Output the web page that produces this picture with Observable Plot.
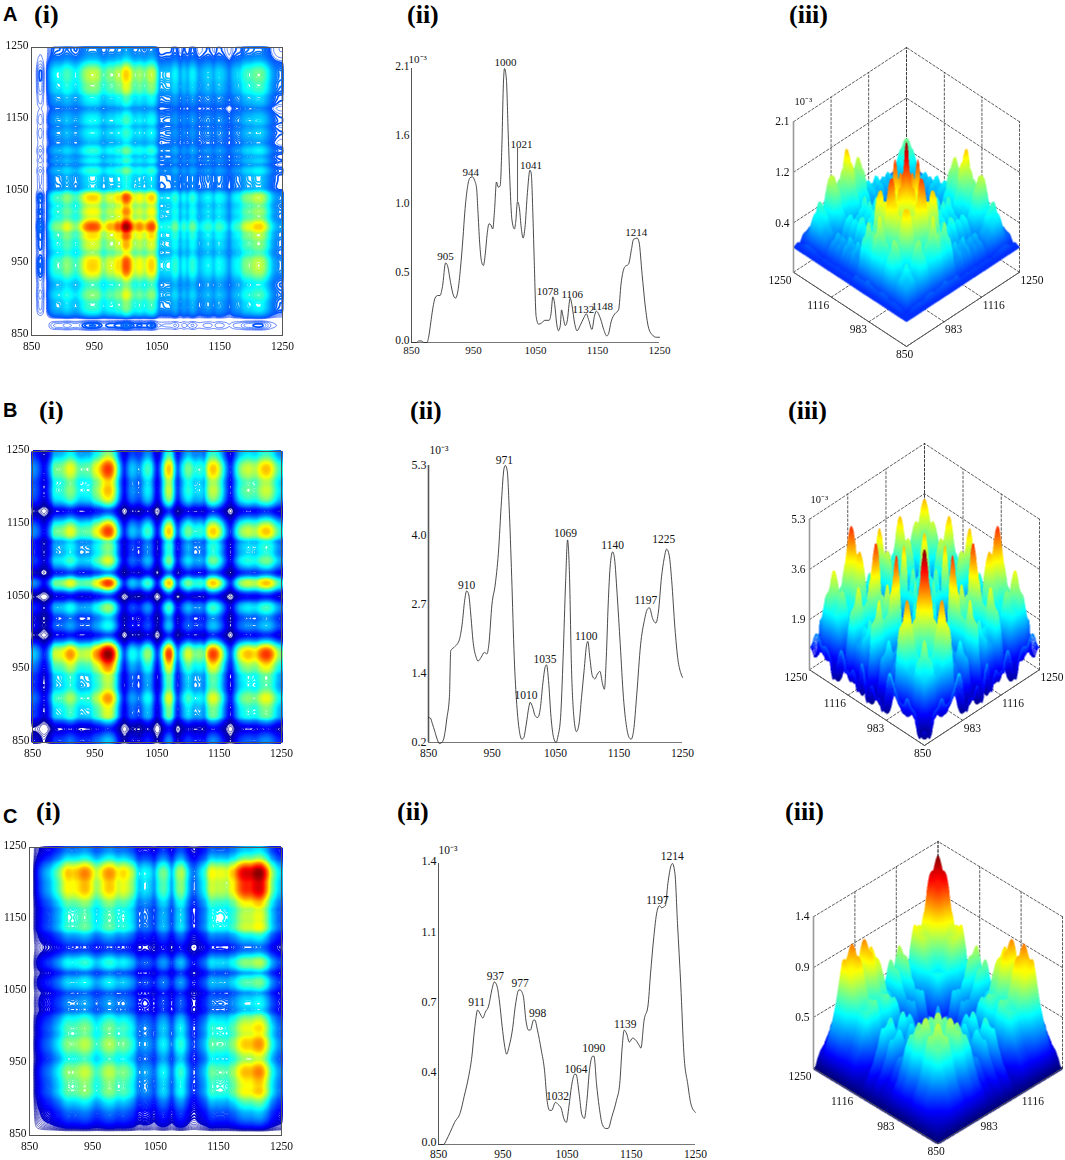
<!DOCTYPE html>
<html><head><meta charset="utf-8">
<script src="https://cdn.jsdelivr.net/npm/d3@7"></script>
<script src="https://cdn.jsdelivr.net/npm/@observablehq/plot@0.6"></script>
<style>
html,body{margin:0;background:#fff}
#root{position:relative;width:1065px;height:1160px;overflow:hidden}
#root svg{position:absolute;background:transparent;overflow:visible}
.t{position:absolute;white-space:pre;line-height:1;color:#000}
.roman{font:bold 26px "Liberation Serif",serif}
.letter{font:bold 20px "Liberation Sans",sans-serif}
</style></head><body><div id="root"></div>
<script>
// ---- series A ----
const wnA=[850,858,862,866,870,875,878,881,884,888,892,896,900,905,908,913,917,921,925,929,933,936,940,944,948,952,955,957,960,963,966,969,972,975,978,981,984,987,990,993,996,998,1000,1003,1006,1009,1012,1016,1018,1021,1024,1027,1030,1033,1037,1041,1043,1046,1048,1051,1055,1060,1065,1072,1075,1078,1081,1084,1087,1090,1092,1094,1098,1101,1106,1109,1113,1117,1122,1128,1132,1136,1141,1145,1148,1155,1160,1165,1168,1172,1178,1184,1188,1194,1200,1205,1208,1214,1217,1222,1227,1232,1238,1245,1250];
const intA=[0,0,.012,.012,0,0,.05,.15,.25,.34,.36,.36,.43,.61,.59,.46,.37,.34,.4,.57,.8,1.0,1.18,1.26,1.27,1.24,1.18,1.02,.76,.62,.59,.68,.83,.91,.9,.87,1.02,1.23,1.19,1.2,1.55,1.95,2.1,2.02,1.6,1.2,.94,.87,.92,1.08,1.03,.88,.8,.88,1.15,1.32,1.3,.95,.62,.2,.14,.15,.17,.17,.22,.35,.29,.15,.09,.13,.25,.21,.13,.16,.34,.28,.15,.09,.13,.19,.22,.17,.1,.2,.24,.18,.1,.05,.07,.16,.22,.25,.45,.58,.6,.72,.79,.8,.77,.52,.28,.12,.06,.04,.04];
const peaksA=[905,944,1000,1021,1041,1078,1106,1132,1148,1214];
const peakDxA=[0,1,1,4,1,-5,2,-3,6,-1];
const peakDyA=[0,0,0,-51,1,1,2,2,1,0];
// ---- series B ----
const wnB=[850,853,856,860,864,867,871,875,879,883,885,890,898,903,907,910,913,917,920,925,928,933,938,942,945,950,955,960,965,969,971,974,977,981,985,989,993,997,1000,1004,1008,1010,1014,1018,1022,1026,1030,1034,1036,1039,1043,1047,1051,1054,1058,1062,1066,1069,1072,1075,1079,1083,1087,1091,1095,1099,1101,1104,1108,1112,1116,1120,1124,1127,1130,1133,1136,1140,1143,1147,1152,1157,1162,1166,1169,1173,1178,1184,1190,1195,1198,1203,1208,1212,1217,1221,1225,1229,1233,1238,1243,1247,1250];
const intB=[.66,.65,.55,.4,.25,.18,.2,.32,.65,1.05,1.89,1.95,2.07,2.38,2.82,2.99,2.94,2.5,2.08,1.77,1.7,1.77,1.86,1.83,2.0,2.75,3.1,3.68,4.66,5.25,5.3,5.2,4.54,3.25,1.77,.9,.42,.26,.29,.54,.85,.94,.85,.69,.66,.82,1.28,1.6,1.63,1.34,.66,.29,.2,.32,.66,1.77,3.18,3.93,3.3,1.65,.66,.4,.54,1.03,1.52,2.0,2.06,1.77,1.43,1.37,1.46,1.51,1.28,1.18,1.77,2.75,3.43,3.71,3.58,2.94,2.0,1.03,.48,.29,.26,.42,1.09,2.0,2.45,2.66,2.68,2.48,2.4,2.6,3.25,3.58,3.76,3.65,3.18,2.32,1.71,1.49,1.4];
const peaksB=[910,971,1010,1035,1069,1100,1140,1197,1225];
const peakDxB=[0,-1,-4,-1,-2,-1,0,-3,-3];
const peakDyB=[0,1,-1,0,-1,-1,-1,-2,-4];
// ---- series C ----
const wnC=[850,858,862,868,875,884,890,897,902,906,911,915,919,923,928,933,937,941,945,949,953,956,960,965,970,975,977,982,986,990,993,998,1000,1004,1010,1015,1019,1023,1026,1032,1036,1041,1045,1049,1053,1057,1062,1064,1069,1073,1077,1081,1085,1090,1092,1096,1100,1105,1110,1114,1120,1127,1132,1136,1139,1143,1147,1152,1157,1163,1165,1170,1176,1180,1185,1190,1194,1197,1203,1207,1212,1214,1218,1222,1227,1232,1238,1243,1250];
const intC=[0,0,.02,.06,.11,.16,.24,.34,.44,.57,.67,.65,.63,.66,.69,.77,.81,.79,.71,.59,.49,.45,.49,.57,.7,.77,.77,.74,.62,.57,.57,.62,.62,.57,.47,.37,.22,.17,.17,.21,.2,.18,.13,.11,.19,.29,.35,.35,.25,.15,.13,.22,.37,.44,.44,.3,.19,.1,.08,.08,.14,.22,.3,.49,.57,.55,.51,.53,.52,.49,.48,.62,.69,.85,1.03,1.16,1.19,1.18,1.19,1.3,1.39,1.4,1.35,1.1,.8,.45,.3,.2,.16];
const peaksC=[911,937,977,998,1032,1064,1090,1139,1197,1214];
const peakDxC=[-1,1,0,4,2,0,1,1,-4,0];
const peakDyC=[-2,0,-1,-1,0,1,-2,0,-1,-1];
// ---- axes ----
const xTicks=[850,950,1050,1150,1250];
const surfTicks=[850,983,1116,1250];
const yTicksA=[0,.525,1.05,1.575,2.1], yLabelsA=["0.0","0.5","1.0","1.6","2.1"];
const yTicksB=[.2,1.475,2.75,4.025,5.3], yLabelsB=["0.2","1.4","2.7","4.0","5.3"];
const yTicksC=[0,.35,.7,1.05,1.4], yLabelsC=["0.0","0.4","0.7","1.1","1.4"];
const zTicksA=[.4,1.25,2.1], zLabelsA=["0.4","1.2","2.1"];
const zTicksB=[1.9,3.6,5.3], zLabelsB=["1.9","3.6","5.3"];
const zTicksC=[.47,.93,1.4], zLabelsC=["0.5","0.9","1.4"];
const zRangeA=[-.43,2.1], zRangeB=[.2,5.3], zRangeC=[0,1.4];
const exponent="10\u207B\u00B3";
// ---- headings ----
const letters=[["A",3,3],["B",3,399],["C",3,805]];
const romans=[["(i)",34,0],["(ii)",407,0],["(iii)",789,0],["(i)",39,396],["(ii)",410,396],["(iii)",788,396],["(i)",36,797],["(ii)",397,797],["(iii)",785,797]];

const root=document.getElementById("root");
const serif="'Liberation Serif','Times New Roman',serif";
const clamp01=v=>Math.max(0,Math.min(1,v));
const jet=t=>{const c=k=>Math.round(255*clamp01(1.5-Math.abs(4*t-k)));return `rgb(${c(3)},${c(2)},${c(1)})`;};
const plain=d=>String(d);

function lookup(wn,vals){
  const raw=x=>{const i=Math.min(wn.length-1,Math.max(1,d3.bisectLeft(wn,x)));const f=(x-wn[i-1])/(wn[i]-wn[i-1]);return vals[i-1]+(vals[i]-vals[i-1])*f;};
  const smooth=x=>(raw(Math.max(850,x-1.5))+2*raw(x)+raw(Math.min(1250,x+1.5)))/4;
  return {raw,smooth};
}
function put(svg,left,top){svg.style.left=left+"px";svg.style.top=top+"px";root.appendChild(svg);return svg;}
const M={l:36,r:18,t:24,b:20};
function base(fr){return {width:fr.x1-fr.x0+M.l+M.r,height:fr.y1-fr.y0+M.t+M.b,marginLeft:M.l,marginRight:M.r,marginTop:M.t,marginBottom:M.b,
  style:{fontFamily:serif,background:"transparent",color:"#111"}};}

function heat(fr,wn,vals,zr,pad,solidFrom,lowShare){
  const f=lookup(wn,vals).smooth;
  const lo=zr[0],hi=zr[1],base0=Math.max(lo,0)+(hi-Math.max(lo,0))*.012;
  const th=d3.range(130).map(i=>base0+(hi-base0)*i/130);
  const split=Math.max(lo,0)+(hi-Math.max(lo,0))*lowShare;
  const cut=lo+(hi-lo)*solidFrom;
  const val=(x,y)=>Math.sqrt(f(x)*f(y));
  const box={x1:850,x2:1250,y1:850,y2:1250,pixelSize:1.5};
  const svg=Plot.plot({...base(fr),x:{domain:[850,1250]},y:{domain:[850,1250]},
    color:{type:"linear",domain:zr,interpolate:jet,clamp:true},
    marks:[
      Plot.raster({...box,pixelSize:1,fill:(x,y)=>{const z=val(x,y);return z>=cut?z:NaN;}}),
      Plot.contour({...box,value:val,thresholds:th.filter(t=>t<split),stroke:"value",fill:"none",strokeWidth:.8,strokeOpacity:.75}),
      Plot.contour({...box,value:val,thresholds:th.filter(t=>t>=split),stroke:"value",fill:"none",strokeWidth:1.7}),
      Plot.frame({stroke:"#555",strokeWidth:1}),
      Plot.axisX(xTicks,{tickSize:0,tickPadding:pad,fontSize:11.5,label:null,tickFormat:plain}),
      Plot.axisY(xTicks,{tickSize:0,tickPadding:3,dy:-2,fontSize:11.5,label:null,tickFormat:plain})
    ]});
  svg.style.filter="blur(0.45px)";
  put(svg,fr.x0-M.l,fr.y0-M.t);
}

function spectrum(fr,wn,vals,yT,yL,peaks,pdx,pdy,opt){
  const rows=wn.map((w,i)=>({w,v:vals[i]}));
  const f=lookup(wn,vals).raw;
  const marks=[
    Plot.ruleX([850],{stroke:"#555",strokeWidth:opt.axisW}),
    Plot.ruleY([yT[0]],{stroke:"#666",strokeWidth:.9}),
    Plot.line(rows,{x:"w",y:"v",stroke:"#2a2a2a",strokeWidth:.85,curve:"monotone-x"}),
    ...peaks.map((p,i)=>Plot.text([p],{x:d=>d,y:d=>f(d),text:plain,dx:pdx[i],dy:-6+pdy[i],fontSize:opt.fs,fill:"#111"})),
    Plot.axisX(xTicks,{tickSize:0,tickPadding:opt.pad,fontSize:opt.fs,label:null,tickFormat:plain}),
    Plot.axisY(yT,{tickSize:0,tickPadding:2,dy:opt.yDy||0,fontSize:opt.fs+.5,label:null,tickFormat:(d,i)=>yL[i]}),
    Plot.text([exponent],{x:()=>850,y:()=>yT[yT.length-1],text:d=>d,textAnchor:"start",dx:opt.expDx,dy:opt.expDy,fontSize:opt.fs})
  ];
  if(opt.leader) marks.push(Plot.ruleX([opt.leader[0]],{y1:opt.leader[1],y2:opt.leader[2],stroke:"#333",strokeWidth:.8}));
  const svg=Plot.plot({...base(fr),x:{domain:[850,1250]},y:{domain:[yT[0],yT[yT.length-1]]},marks});
  put(svg,fr.x0-M.l,fr.y0-M.t);
}

function surface(fr,wn,vals,zT,zL,zr,opt){
  const [lo,hi]=zr, f=lookup(wn,vals).smooth;
  const ratio=fr.floor/fr.wall, Emax=1+2*ratio;
  const proj=(uw,vw,z)=>{const u=(uw-850)/400,v=(vw-850)/400;return {x:v-u,y:(z-lo)/(hi-lo)+(u+v)*ratio};};
  const W=Math.round((fr.x1-fr.x0)*2),H=Math.round((fr.y1-fr.y0)*2),N=520;
  const buf=new Float32Array(W*H).fill(NaN);
  const S=Float64Array.from({length:N+1},(_,i)=>f(850+400*i/N));
  const Z=(a,b)=>Math.sqrt(S[a]*S[b]);
  const En=(a,b)=>(Z(a,b)-lo)/(hi-lo)+(a+b)/N*ratio;
  for(let a=N;a>=0;a--)for(let b=N;b>=0;b--){
    const x=(b-a)/N, e0=En(a,b), z0=Z(a,b);
    let el=e0,zl=z0;
    if(a>0){const e=En(a-1,b);if(e<el){el=e;zl=Z(a-1,b);}}
    if(b>0){const e=En(a,b-1);if(e<el){el=e;zl=Z(a,b-1);}}
    if(a===0||b===0){el=e0-.006;}
    const i=Math.min(W-1,Math.floor((x+1)/2*W));
    const j1=Math.min(H-1,Math.floor(e0/Emax*H)),j0=Math.max(0,Math.floor(el/Emax*H));
    for(let j=j0;j<=j1;j++){const t=j1>j0?(j-j0)/(j1-j0):1;buf[j*W+i]=zl+(z0-zl)*t;}
  }
  const grid=[];let id=0;
  const seg=(a,b)=>{id++;grid.push({id,...a},{id,...b});};
  for(const t of surfTicks){
    seg(proj(1250,t,lo),proj(1250,t,hi));
    seg(proj(t,1250,lo),proj(t,1250,hi));
    seg(proj(t,850,lo),proj(t,1250,lo));
    seg(proj(850,t,lo),proj(1250,t,lo));
  }
  for(const z of zT){seg(proj(1250,850,z),proj(1250,1250,z));seg(proj(850,1250,z),proj(1250,1250,z));}
  const axes=[];
  const aseg=(a,b)=>{id++;axes.push({id,...a},{id,...b});};
  aseg(proj(850,850,lo),proj(1250,850,lo));
  aseg(proj(850,850,lo),proj(850,1250,lo));
  const zAxis=[proj(1250,850,lo),proj(1250,850,hi)];
  const leftT=surfTicks.slice(1).map(t=>({t,...proj(t,850,lo)}));
  const front=[{t:850,...proj(850,850,lo)}];
  const rightT=surfTicks.slice(1).filter(t=>opt.rightEnd||t<1250).map(t=>({t,...proj(850,t,lo)}));
  const zPts=zT.map((z,i)=>({l:zL[i],...proj(1250,850,z)}));
  const topCorner=proj(1250,850,hi);
  const marks=[
    Plot.line(grid,{x:"x",y:"y",z:"id",stroke:"#333",strokeWidth:.8,strokeDasharray:"2.4,2"}),
    Plot.raster({x1:-1,x2:1,y1:0,y2:Emax,pixelSize:.5,fill:(x,y)=>{
      const i=Math.floor((x+1)/2*W),j=Math.floor(y/Emax*H);
      if(i<0||j<0||i>=W||j>=H)return NaN;return buf[j*W+i];}}),
    Plot.line(axes,{x:"x",y:"y",z:"id",stroke:"#555",strokeWidth:1}),
    Plot.line(zAxis,{x:"x",y:"y",stroke:"#9a9a9a",strokeWidth:1.6}),
    Plot.text(leftT,{x:"x",y:"y",text:d=>String(d.t),dx:-2,dy:8,fontSize:11.5,fill:"#111",textAnchor:"end"}),
    Plot.text(front,{x:"x",y:"y",text:d=>String(d.t),dx:-2,dy:8,fontSize:11.5,fill:"#111"}),
    Plot.text(rightT,{x:"x",y:"y",text:d=>String(d.t),dx:1,dy:8,fontSize:11.5,fill:"#111",textAnchor:"start"}),
    Plot.text(zPts,{x:"x",y:"y",text:"l",dx:-4,fontSize:11.5,textAnchor:"end",fill:"#111"})
  ];
  if(opt.exp) marks.push(Plot.text([topCorner],{x:"x",y:"y",text:()=>exponent,dx:1,dy:-20,fontSize:10.5,textAnchor:"start",fill:"#111"}));
  const svg=Plot.plot({...base(fr),x:{domain:[-1,1],axis:null},y:{domain:[0,Emax],axis:null},
    color:{type:"linear",domain:zr,interpolate:jet,clamp:true},marks});
  svg.style.filter="blur(0.3px)";
  put(svg,fr.x0-M.l,fr.y0-M.t);
}

const h=(x0,x1,y0,y1)=>({x0,x1,y0,y1});
heat(h(31,282,47,335),wnA,intA,zRangeA,6,.6,.035);
heat(h(32,281,451,742),wnB,intB,zRangeB,6,.5,.03);
heat(h(29,281,847,1135),wnC,intC,zRangeC,6,.55,.06);

spectrum(h(411,659,68,342),wnA,intA,yTicksA,yLabelsA,peaksA,peakDxA,peakDyA,{fs:11,pad:4,axisW:1,expDx:-3,expDy:-9,yDy:-2,leader:[1021,1.08,1.49]});
spectrum(h(428,682,465,742),wnB,intB,yTicksB,yLabelsB,peaksB,peakDxB,peakDyB,{fs:11.5,pad:6,axisW:1.6,expDx:1,expDy:-15});
spectrum(h(438,695,863,1144),wnC,intC,yTicksC,yLabelsC,peaksC,peakDxC,peakDyC,{fs:11.5,pad:5,axisW:1,expDx:0,expDy:-13,yDy:-2});

surface({x0:793,x1:1019,y0:47,y1:346,floor:75,wall:152},wnA,intA,zTicksA,zLabelsA,zRangeA,{exp:true,rightEnd:true});
surface({x0:809,x1:1039,y0:443,y1:745,floor:76,wall:151},wnB,intB,zTicksB,zLabelsB,zRangeB,{exp:true,rightEnd:true});
surface({x0:813,x1:1062,y0:841,y1:1143,floor:75,wall:151},wnC,intC,zTicksC,zLabelsC,zRangeC,{exp:false,rightEnd:false});

for(const [s,x,y] of letters){const d=document.createElement("div");d.className="t letter";d.textContent=s;d.style.left=x+"px";d.style.top=y+"px";root.appendChild(d);}
for(const [s,x,y] of romans){const d=document.createElement("div");d.className="t roman";d.textContent=s;d.style.left=x+"px";d.style.top=y+"px";root.appendChild(d);}
</script></body></html>
